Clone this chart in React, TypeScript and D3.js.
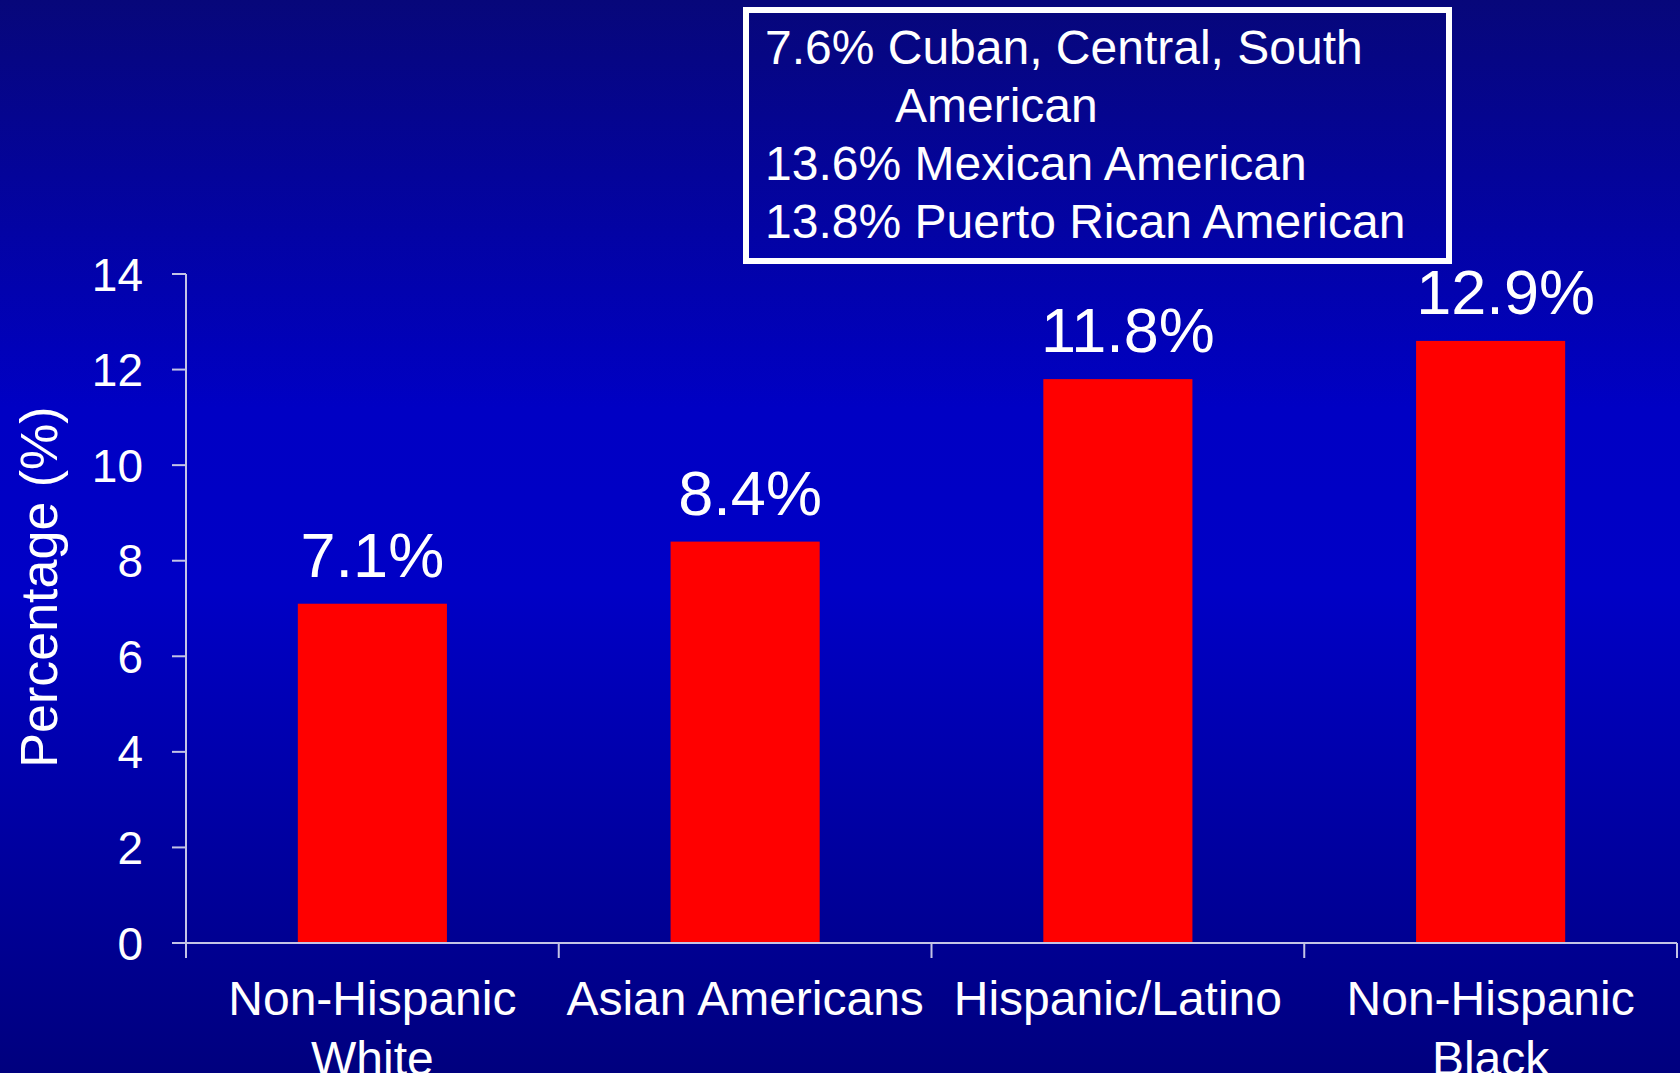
import React, { useRef, useEffect } from "react";
import * as d3 from "d3";

const categories = [["Non-Hispanic", "White"], ["Asian Americans"], ["Hispanic/Latino"], ["Non-Hispanic", "Black"]];
const values = [7.1, 8.4, 11.8, 12.6];
const valueLabels = ["7.1%", "8.4%", "11.8%", "12.9%"];
const yTicks = [0, 2, 4, 6, 8, 10, 12, 14];
const noteLines = ["7.6% Cuban, Central, South", "American", "13.6% Mexican American", "13.8% Puerto Rican American"];

const App: React.FC = () => {
    const svgRef = useRef<SVGSVGElement | null>(null);

    useEffect(() => {
        document.body.style.margin = "0";
        if (!svgRef.current) return;

        const width = 1680;
        const height = 1073;
        const font = "Arial, 'Liberation Sans', sans-serif";
        const axisColor = "#c4c4e6";

        const svg = d3.select(svgRef.current)
            .attr("width", width)
            .attr("height", height)
            .style("display", "block");

        svg.selectAll("*").remove();

        const grad = svg.append("defs").append("linearGradient")
            .attr("id", "bg").attr("x1", 0).attr("y1", 0).attr("x2", 0).attr("y2", 1);
        [[0, "#07077a"], [0.38, "#0000c4"], [0.55, "#0000c6"], [1, "#00007e"]].forEach(([o, c]) => {
            grad.append("stop").attr("offset", o as number).attr("stop-color", c as string);
        });
        svg.append("rect").attr("width", width).attr("height", height).attr("fill", "url(#bg)");

        const x = d3.scaleBand<number>()
            .domain(d3.range(categories.length))
            .range([186, 1677])
            .paddingInner(0.6)
            .paddingOuter(0.3);

        const y = d3.scaleLinear().domain([0, 14]).range([943, 274]);

        // bars
        svg.append("g").selectAll("rect")
            .data(values)
            .join("rect")
            .attr("x", (_, i) => x(i)!)
            .attr("y", d => y(d))
            .attr("width", x.bandwidth())
            .attr("height", d => y(0) - y(d))
            .attr("fill", "#ff0000");

        // value labels
        svg.append("g").selectAll("text")
            .data(values)
            .join("text")
            .attr("x", (_, i) => x(i)! + x.bandwidth() / 2 + i * 5)
            .attr("y", d => y(d) - 27)
            .attr("text-anchor", "middle")
            .attr("fill", "#fff")
            .style("font", `63px ${font}`)
            .text((_, i) => valueLabels[i]);

        // y axis
        const ax = svg.append("g").attr("stroke", axisColor).attr("stroke-width", 2);
        ax.append("line").attr("x1", 186).attr("x2", 186).attr("y1", y(14)).attr("y2", y(0) + 15);
        ax.selectAll(".yt").data(yTicks).join("line")
            .attr("x1", 172).attr("x2", 186)
            .attr("y1", d => y(d)).attr("y2", d => y(d));

        svg.append("g").selectAll("text")
            .data(yTicks)
            .join("text")
            .attr("x", 143)
            .attr("y", d => y(d))
            .attr("dy", "0.36em")
            .attr("text-anchor", "end")
            .attr("fill", "#fff")
            .style("font", `46px ${font}`)
            .text(d => d);

        // x axis
        const [r0, r1] = x.range();
        ax.append("line").attr("x1", 172).attr("x2", r1).attr("y1", y(0)).attr("y2", y(0));
        const step = x.step();
        ax.selectAll(".xt").data(d3.range(categories.length + 1)).join("line")
            .attr("x1", i => r0 + i * step).attr("x2", i => r0 + i * step)
            .attr("y1", y(0)).attr("y2", y(0) + 15);

        const cat = svg.append("g").selectAll("text")
            .data(categories)
            .join("text")
            .attr("text-anchor", "middle")
            .attr("fill", "#fff")
            .style("font", `48px ${font}`);
        cat.selectAll("tspan")
            .data((d, i) => d.map(t => ({ t, i })))
            .join("tspan")
            .attr("x", d => r0 + (d.i + 0.5) * step)
            .attr("y", (_, j) => 1015 + j * 60)
            .text(d => d.t);

        // y title
        svg.append("text")
            .attr("transform", "translate(57,587) rotate(-90)")
            .attr("text-anchor", "middle")
            .attr("fill", "#fff")
            .style("font", `52px ${font}`)
            .text("Percentage (%)");

        // note box
        svg.append("rect")
            .attr("x", 746).attr("y", 10)
            .attr("width", 703).attr("height", 251)
            .attr("fill", "none")
            .attr("stroke", "#fff")
            .attr("stroke-width", 6);

        svg.append("g").selectAll("text")
            .data(noteLines)
            .join("text")
            .attr("x", (_, i) => i === 1 ? 895 : 765)
            .attr("y", (_, i) => 64 + i * 58)
            .attr("fill", "#fff")
            .style("font", `48px ${font}`)
            .text(d => d);
    }, []);

    return <svg ref={svgRef} />;
};

export default App;
